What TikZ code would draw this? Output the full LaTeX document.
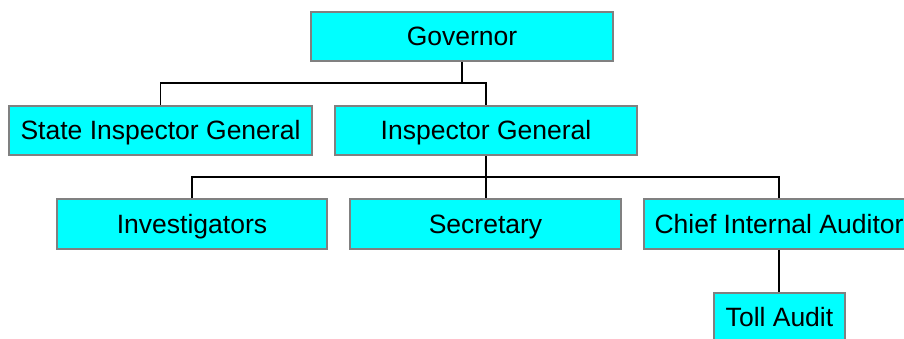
\documentclass[tikz,border=0pt]{standalone}
\usepackage{fontspec}
\setmainfont{Liberation Sans}
\definecolor{boxfill}{RGB}{0,255,255}
\definecolor{boxline}{RGB}{128,128,128}
\begin{document}
\begin{tikzpicture}[x=1pt,y=-1pt,
  orgbox/.style={draw=boxline, line width=1.6pt, fill=boxfill, rectangle,
    minimum height=49pt, inner sep=0pt, text height=19.5pt, text depth=1.5pt,
    font=\fontsize{26.5}{30}\selectfont},
  link/.style={draw=black, line width=1.6pt}]
\path[use as bounding box, clip] (0,0) rectangle (904,339);
\node[orgbox, minimum width=302pt] (gov) at (462,36.5) {Governor};
\node[orgbox, minimum width=303pt] (sig) at (160.5,130.5) {State Inspector General};
\node[orgbox, minimum width=302pt] (ig) at (486,130.5) {Inspector General};
\node[orgbox, minimum width=270pt, minimum height=50pt] (inv) at (192,224) {Investigators};
\node[orgbox, minimum width=271pt, minimum height=50pt] (sec) at (485.5,224) {Secretary};
\node[orgbox, minimum width=270pt, minimum height=50pt] (cia) at (779,224) {Chief Internal Auditor};
\node[orgbox, minimum width=131pt] (toll) at (779.5,317.5) {Toll Audit};
\coordinate (j1) at (462,83);
\coordinate (j2) at (486,177);
\draw[link] (gov.south) -- (j1);
\draw[link] (sig.north) |- (j1) -| (ig.north);
\draw[link] (ig.south) -- (j2);
\draw[link] (inv.north) |- (j2) -| (cia.north);
\draw[link] (j2) -- (sec.north -| j2);
\draw[link] (cia.south) -- (toll.north -| cia.south);
\end{tikzpicture}
\end{document}
